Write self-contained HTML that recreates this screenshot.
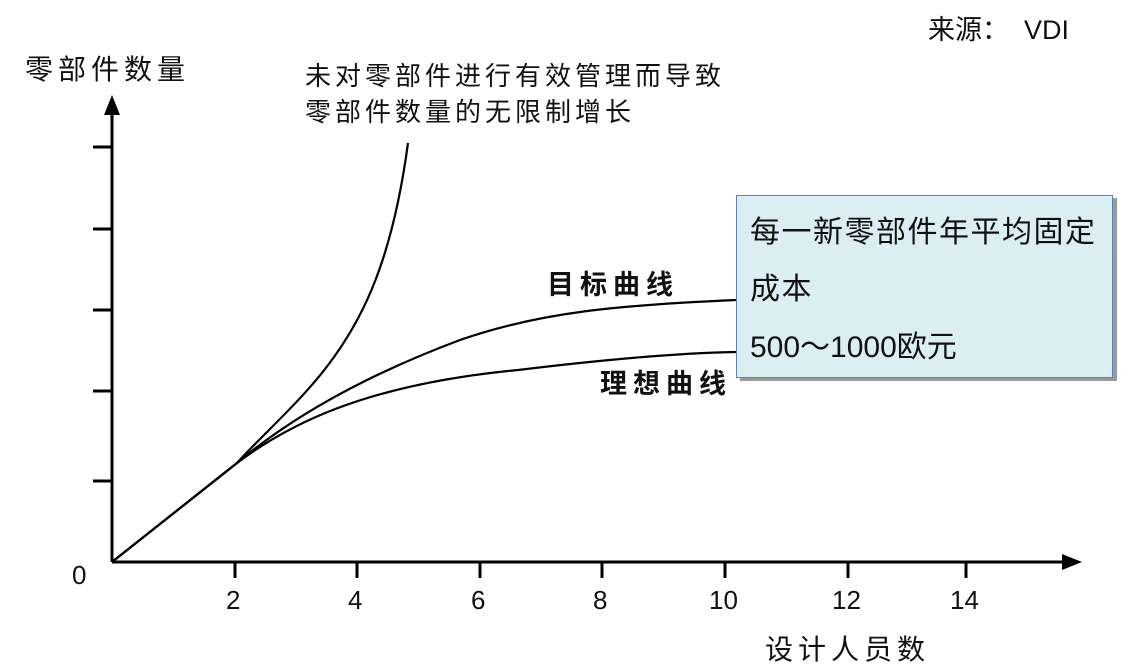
<!DOCTYPE html>
<html><head><meta charset="utf-8"><style>
body{margin:0;width:1132px;height:669px;background:#fff;overflow:hidden;position:relative;font-family:"Liberation Sans","Noto Sans CJK SC",sans-serif;}
.t{position:absolute;white-space:nowrap;color:#111;line-height:1;}
.box{position:absolute;left:736px;top:195px;width:375px;height:181px;background:#dbeef4;border:1.5px solid #5a86bf;box-shadow:4px 3px 0 #9a9a9a;}
</style></head><body>
<svg width="1132" height="669" style="position:absolute;left:0;top:0">
<g stroke="#000" stroke-width="3" fill="none">
<line x1="112" y1="562" x2="112" y2="110"/>
<line x1="112" y1="562" x2="1065" y2="562"/>
<line x1="93" y1="147" x2="112" y2="147"/>
<line x1="93" y1="229" x2="112" y2="229"/>
<line x1="93" y1="310" x2="112" y2="310"/>
<line x1="93" y1="391" x2="112" y2="391"/>
<line x1="93" y1="481" x2="112" y2="481"/>
<line x1="235" y1="562" x2="235" y2="578"/>
<line x1="357" y1="562" x2="357" y2="578"/>
<line x1="480" y1="562" x2="480" y2="578"/>
<line x1="602" y1="562" x2="602" y2="578"/>
<line x1="725" y1="562" x2="725" y2="578"/>
<line x1="848" y1="562" x2="848" y2="578"/>
<line x1="966" y1="562" x2="966" y2="578"/>
</g>
<polygon points="112,95 104,115 120,115" fill="#000"/>
<polygon points="1082,562 1062,554 1062,570" fill="#000"/>
<g stroke="#000" stroke-width="2.2" fill="none">
<path d="M112,562 L237,463 C265,432 305,398 334,357 C362,318 392,262 408,143"/>
<path d="M112,562 L237,463 C300,410 380,370 460,340 C540,312 620,305 736,300"/>
<path d="M112,562 L237,463 C285,427 360,385 518,370 C600,360 680,353 736,352"/>
</g>
</svg>
<div class="t" style="left:25px;top:56px;font-size:28px;letter-spacing:5px">零部件数量</div>
<div class="t" style="left:305px;top:63px;font-size:26px;letter-spacing:4px">未对零部件进行有效管理而导致</div>
<div class="t" style="left:305px;top:99px;font-size:26px;letter-spacing:4px">零部件数量的无限制增长</div>
<div class="t" style="left:928px;top:17px;font-size:27px">来源：&nbsp; VDI</div>
<div class="t" style="left:547px;top:272px;font-size:27px;letter-spacing:6px;font-weight:bold">目标曲线</div>
<div class="t" style="left:600px;top:371px;font-size:27px;letter-spacing:6px;font-weight:bold">理想曲线</div>
<div class="t" style="left:72px;top:562px;font-size:26px">0</div>
<div class="t" style="left:226px;top:587px;font-size:26px">2</div>
<div class="t" style="left:348px;top:587px;font-size:26px">4</div>
<div class="t" style="left:471px;top:587px;font-size:26px">6</div>
<div class="t" style="left:593px;top:587px;font-size:26px">8</div>
<div class="t" style="left:709px;top:587px;font-size:26px">10</div>
<div class="t" style="left:832px;top:587px;font-size:26px">12</div>
<div class="t" style="left:950px;top:587px;font-size:26px">14</div>
<div class="t" style="left:765px;top:636px;font-size:28px;letter-spacing:5px">设计人员数</div>
<div class="box"></div>
<div class="t" style="left:750px;top:218px;font-size:30px;letter-spacing:1.5px">每一新零部件年平均固定</div>
<div class="t" style="left:750px;top:275px;font-size:30px;letter-spacing:1.5px">成本</div>
<div class="t" style="left:750px;top:333px;font-size:30px">500～1000欧元</div>
</body></html>
